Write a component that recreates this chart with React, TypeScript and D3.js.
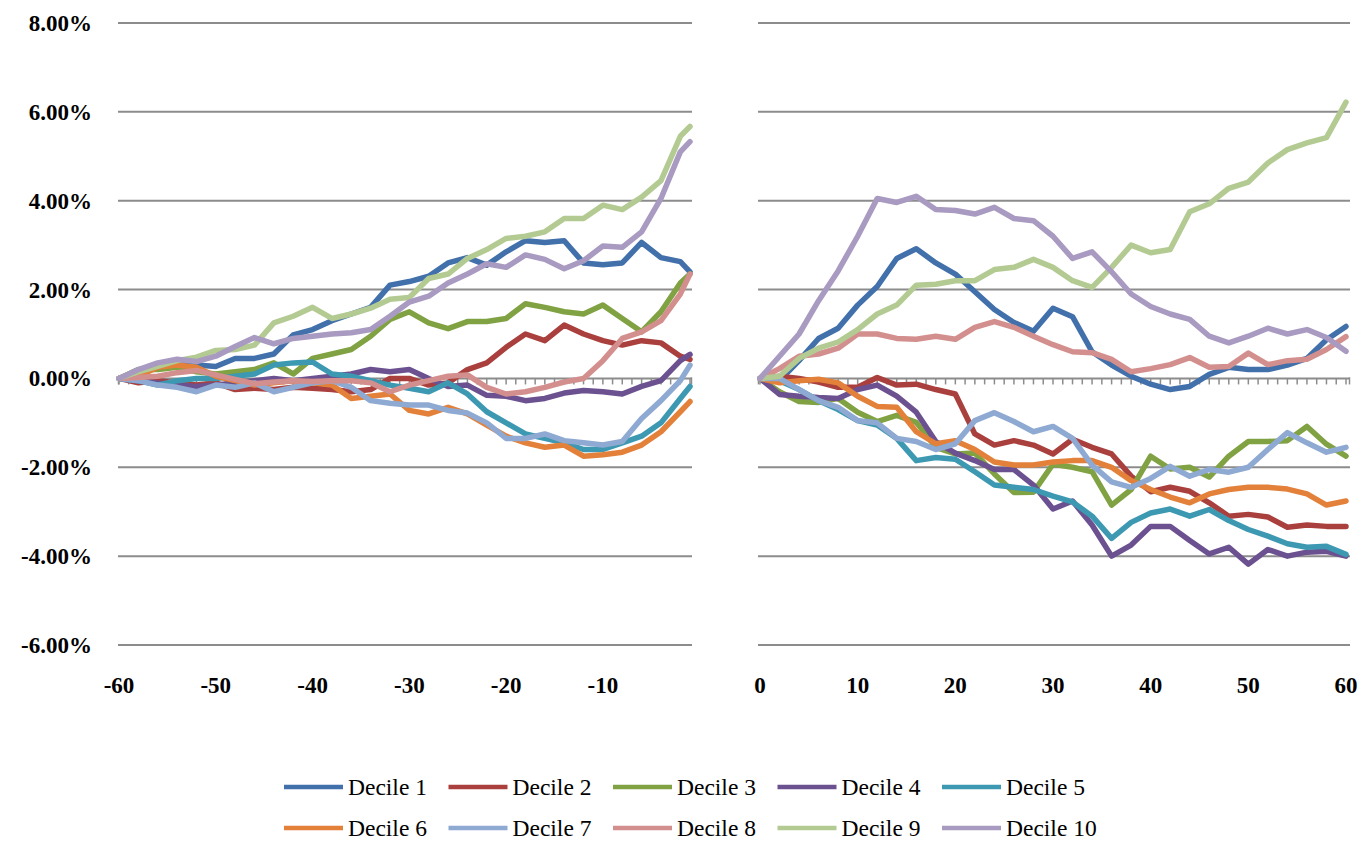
import * as d3 from 'd3';

const preDays = [-60, -58, -56, -54, -52, -50, -48, -46, -44, -42, -40, -38, -36, -34, -32, -30, -28, -26, -24, -22, -20, -18, -16, -14, -12, -10, -8, -6, -4, -2, -1];
const postDays = [0, 2, 4, 6, 8, 10, 12, 14, 16, 18, 20, 22, 24, 26, 28, 30, 32, 34, 36, 38, 40, 42, 44, 46, 48, 50, 52, 54, 56, 58, 60];

const yTicks = [-6, -4, -2, 0, 2, 4, 6, 8];
const preTicks = [-60, -50, -40, -30, -20, -10];
const postTicks = [0, 10, 20, 30, 40, 50, 60];

const decileNames = ['Decile 1', 'Decile 2', 'Decile 3', 'Decile 4', 'Decile 5', 'Decile 6', 'Decile 7', 'Decile 8', 'Decile 9', 'Decile 10'];
const decileColors = ['#4170ab', '#aa403d', '#80a243', '#6c5190', '#3d98b2', '#e3813a', '#8ea9d2', '#d38f8d', '#b3cb92', '#a89ac0'];

// cumulative abnormal return, %
const decile1Pre = [0, 0.15, 0.25, 0.38, 0.3, 0.27, 0.45, 0.45, 0.55, 0.98, 1.1, 1.3, 1.45, 1.6, 2.1, 2.18, 2.3, 2.6, 2.72, 2.55, 2.85, 3.1, 3.06, 3.1, 2.6, 2.56, 2.6, 3.06, 2.72, 2.63, 2.4];
const decile2Pre = [0, -0.1, -0.05, -0.1, -0.15, -0.1, -0.25, -0.22, -0.25, -0.2, -0.22, -0.25, -0.3, -0.25, 0.0, 0.0, -0.15, -0.1, 0.2, 0.35, 0.7, 1.0, 0.85, 1.2, 1.0, 0.85, 0.75, 0.85, 0.8, 0.5, 0.43];
const decile3Pre = [0, 0.2, 0.2, 0.25, 0.15, 0.1, 0.15, 0.2, 0.35, 0.1, 0.45, 0.55, 0.65, 0.95, 1.33, 1.5, 1.25, 1.12, 1.28, 1.28, 1.35, 1.68, 1.6, 1.5, 1.45, 1.65, 1.35, 1.05, 1.5, 2.15, 2.35];
const decile4Pre = [0, -0.05, -0.1, -0.15, -0.18, -0.15, -0.1, -0.05, 0.0, -0.05, 0.0, 0.05, 0.1, 0.2, 0.15, 0.2, 0.0, -0.18, -0.15, -0.38, -0.4, -0.5, -0.45, -0.33, -0.27, -0.3, -0.35, -0.18, -0.05, 0.4, 0.54];
const decile5Pre = [0, -0.05, -0.15, -0.05, 0.0, 0.0, 0.05, 0.1, 0.3, 0.35, 0.37, 0.1, 0.05, -0.05, -0.15, -0.22, -0.3, -0.1, -0.35, -0.75, -1.0, -1.25, -1.35, -1.45, -1.6, -1.6, -1.45, -1.3, -1.0, -0.45, -0.18];
const decile6Pre = [0, 0.05, 0.25, 0.3, 0.25, 0.05, -0.05, -0.15, -0.1, -0.05, -0.1, -0.15, -0.45, -0.4, -0.35, -0.72, -0.8, -0.65, -0.8, -1.05, -1.3, -1.45, -1.55, -1.5, -1.75, -1.72, -1.66, -1.5, -1.2, -0.75, -0.52];
const decile7Pre = [0, -0.05, -0.15, -0.2, -0.3, -0.15, -0.2, -0.1, -0.3, -0.2, -0.1, -0.05, -0.2, -0.5, -0.56, -0.6, -0.6, -0.72, -0.78, -1.0, -1.35, -1.35, -1.25, -1.4, -1.45, -1.5, -1.42, -0.9, -0.5, -0.05, 0.3];
const decile8Pre = [0, 0.02, 0.05, 0.13, 0.18, 0.08, -0.02, -0.12, -0.08, -0.05, -0.07, -0.05, -0.05, -0.1, -0.3, -0.15, -0.05, 0.05, 0.08, -0.2, -0.35, -0.3, -0.2, -0.08, 0.0, 0.4, 0.9, 1.05, 1.3, 1.9, 2.35];
const decile9Pre = [0, 0.15, 0.27, 0.4, 0.48, 0.63, 0.65, 0.75, 1.25, 1.4, 1.6, 1.35, 1.45, 1.58, 1.78, 1.82, 2.25, 2.35, 2.7, 2.9, 3.15, 3.2, 3.3, 3.6, 3.6, 3.9, 3.8, 4.08, 4.45, 5.45, 5.67];
const decile10Pre = [0, 0.2, 0.35, 0.43, 0.38, 0.5, 0.72, 0.92, 0.78, 0.9, 0.95, 1.0, 1.03, 1.1, 1.4, 1.72, 1.85, 2.15, 2.35, 2.58, 2.5, 2.78, 2.68, 2.47, 2.65, 2.98, 2.95, 3.3, 4.05, 5.1, 5.33];

const decile1Post = [0, -0.05, 0.4, 0.9, 1.13, 1.65, 2.07, 2.7, 2.92, 2.6, 2.35, 1.95, 1.55, 1.26, 1.06, 1.58, 1.39, 0.6, 0.3, 0.05, -0.13, -0.25, -0.18, 0.09, 0.25, 0.2, 0.2, 0.3, 0.45, 0.87, 1.17];
const decile2Post = [0, 0.05, 0.0, -0.08, -0.2, -0.2, 0.02, -0.15, -0.13, -0.25, -0.35, -1.25, -1.5, -1.4, -1.5, -1.7, -1.37, -1.55, -1.7, -2.2, -2.55, -2.45, -2.54, -2.8, -3.1, -3.06, -3.12, -3.35, -3.3, -3.33, -3.33];
const decile3Post = [0, -0.3, -0.52, -0.54, -0.45, -0.76, -0.97, -0.83, -0.99, -1.55, -1.7, -1.68, -2.15, -2.57, -2.56, -1.93, -2.0, -2.1, -2.85, -2.5, -1.75, -2.04, -2.0, -2.22, -1.75, -1.42, -1.42, -1.4, -1.08, -1.48, -1.75];
const decile4Post = [0, -0.36, -0.4, -0.43, -0.45, -0.25, -0.15, -0.4, -0.76, -1.42, -1.68, -1.85, -2.05, -2.05, -2.4, -2.94, -2.76, -3.3, -4.0, -3.75, -3.33, -3.33, -3.65, -3.95, -3.8, -4.18, -3.85, -4.0, -3.91, -3.89, -4.0];
const decile5Post = [0, -0.05, -0.25, -0.5, -0.7, -0.95, -1.05, -1.35, -1.85, -1.78, -1.82, -2.1, -2.4, -2.45, -2.5, -2.65, -2.78, -3.1, -3.6, -3.24, -3.03, -2.94, -3.1, -2.95, -3.2, -3.4, -3.55, -3.72, -3.8, -3.78, -3.96];
const decile6Post = [0, -0.1, -0.05, -0.02, -0.1, -0.4, -0.63, -0.65, -1.2, -1.47, -1.4, -1.6, -1.88, -1.95, -1.95, -1.88, -1.85, -1.85, -2.0, -2.3, -2.5, -2.67, -2.8, -2.6, -2.5, -2.45, -2.45, -2.49, -2.6, -2.85, -2.76];
const decile7Post = [0, 0.0, -0.25, -0.5, -0.65, -0.95, -1.0, -1.35, -1.42, -1.6, -1.47, -0.95, -0.77, -0.97, -1.2, -1.08, -1.35, -1.95, -2.33, -2.45, -2.25, -1.98, -2.2, -2.05, -2.11, -2.0, -1.6, -1.22, -1.45, -1.66, -1.55];
const decile8Post = [0, 0.22, 0.5, 0.55, 0.68, 1.0, 1.0, 0.9, 0.88, 0.95, 0.88, 1.15, 1.28, 1.15, 0.95, 0.76, 0.6, 0.58, 0.43, 0.15, 0.22, 0.31, 0.47, 0.25, 0.27, 0.57, 0.31, 0.4, 0.43, 0.65, 0.94];
const decile9Post = [0, 0.05, 0.45, 0.68, 0.82, 1.1, 1.45, 1.65, 2.1, 2.12, 2.2, 2.2, 2.45, 2.5, 2.68, 2.5, 2.2, 2.05, 2.5, 3.0, 2.83, 2.9, 3.75, 3.93, 4.28, 4.42, 4.85, 5.15, 5.3, 5.42, 6.22];
const decile10Post = [0, 0.5, 1.0, 1.75, 2.42, 3.2, 4.05, 3.96, 4.1, 3.8, 3.78, 3.7, 3.85, 3.6, 3.55, 3.2, 2.7, 2.85, 2.4, 1.9, 1.62, 1.45, 1.33, 0.95, 0.8, 0.95, 1.13, 1.0, 1.1, 0.92, 0.61];

const preSeries = [decile1Pre, decile2Pre, decile3Pre, decile4Pre, decile5Pre, decile6Pre, decile7Pre, decile8Pre, decile9Pre, decile10Pre];
const postSeries = [decile1Post, decile2Post, decile3Post, decile4Post, decile5Post, decile6Post, decile7Post, decile8Post, decile9Post, decile10Post];

const FONT = '"Liberation Serif", "Times New Roman", serif';
const GRID = '#8c8c8c';

export default function App() {
  const width = 1365;
  const height = 858;

  const y = d3.scaleLinear().domain([-6, 8]).range([645, 23]);
  const xPre = d3.scaleLinear().domain([-60, -1]).range([119, 690]);
  const xPost = d3.scaleLinear().domain([0, 60]).range([760, 1346]);

  const panels = [
    { x: xPre, days: preDays, series: preSeries, ticks: preTicks, x0: 118, x1: 692, minor: d3.range(-60, 0) },
    { x: xPost, days: postDays, series: postSeries, ticks: postTicks, x0: 758, x1: 1350, minor: d3.range(0, 61) },
  ];

  const legendX = d3.scaleLinear().domain([0, 4]).range([284, 942]);
  const legendY = [787, 828];

  return (
    <svg
      width={width}
      height={height}
      style={{ position: 'absolute', left: 0, top: 0, background: '#fff' }}
      fontFamily={FONT}
    >
      {yTicks.map(t => (
        <text
          key={'yl' + t}
          x={92}
          y={y(t)}
          dy="0.35em"
          textAnchor="end"
          fontSize={23}
          fontWeight="bold"
        >
          {t.toFixed(2) + '%'}
        </text>
      ))}

      {panels.map((p, pi) => {
        const line = d3.line<number>()
          .x((_, i) => p.x(p.days[i]))
          .y(d => y(d));
        return (
          <g key={'p' + pi}>
            {yTicks.filter(t => t !== 0).map(t => (
              <line key={'g' + t} x1={p.x0} x2={p.x1} y1={y(t)} y2={y(t)} stroke={GRID} strokeWidth={2} />
            ))}
            <line x1={p.x0} x2={p.x1} y1={y(0)} y2={y(0)} stroke={GRID} strokeWidth={2} />
            {p.minor.map(d => (
              <line key={'m' + d} x1={p.x(d)} x2={p.x(d)} y1={y(0)} y2={y(0) + 6} stroke={GRID} strokeWidth={1.5} />
            ))}
            <line x1={p.x0 + 0.5} x2={p.x0 + 0.5} y1={y(0) - 1} y2={y(0) + 6} stroke={GRID} strokeWidth={1.5} />
            <line x1={p.x1 - 0.5} x2={p.x1 - 0.5} y1={y(0) - 1} y2={y(0) + 6} stroke={GRID} strokeWidth={1.5} />

            {p.series.map((s, si) => (
              <path
                key={'s' + si}
                d={line(s) || ''}
                fill="none"
                stroke={decileColors[si]}
                strokeWidth={5.5}
                strokeLinejoin="round"
                strokeLinecap="round"
              />
            ))}

            {p.ticks.map(t => (
              <text
                key={'xl' + t}
                x={p.x(t)}
                y={693}
                textAnchor="middle"
                fontSize={23}
                fontWeight="bold"
              >
                {t}
              </text>
            ))}
          </g>
        );
      })}

      {decileNames.map((name, i) => {
        const col = i % 5;
        const row = Math.floor(i / 5);
        const lx = legendX(col);
        const ly = legendY[row];
        return (
          <g key={'lg' + i}>
            <line x1={lx} x2={lx + 59} y1={ly} y2={ly} stroke={decileColors[i]} strokeWidth={4.5} />
            <text x={lx + 64} y={ly} dy="0.35em" fontSize={23.5}>
              {name}
            </text>
          </g>
        );
      })}
    </svg>
  );
}
